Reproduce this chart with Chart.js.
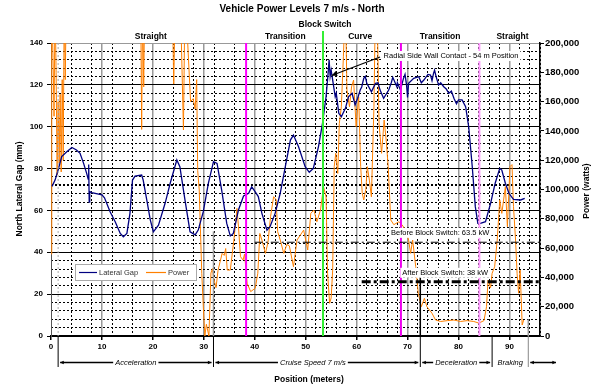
<!DOCTYPE html>
<html>
<head>
<meta charset="utf-8">
<script src="https://cdn.jsdelivr.net/npm/chart.js@4.4.0/dist/chart.umd.min.js"></script>
<style>
html, body { margin: 0; padding: 0; background: #fff; }
canvas { display: block; }
</style>
</head>
<body>
<canvas id="powerChart" width="594" height="387"></canvas>
<script>
// North lateral gap (mm) against position (m)
const gapPos = [0.2, 0.8, 1.4, 2.1, 3.1, 4.1, 5.0, 5.7, 6.4, 7.0, 7.3, 7.4, 7.5, 7.6, 8.0, 10.0, 10.5, 11.6, 12.6, 13.6,
  14.2, 14.9, 15.5, 16.0, 16.5, 17.8, 18.1, 18.8, 19.5, 20.1, 21.1, 22.4, 23.4, 24.7, 25.3, 26.3, 27.3, 28.3, 28.9, 29.9,
  30.9, 31.9, 32.6, 33.5, 34.5, 35.2, 35.8, 36.8, 37.8, 38.8, 39.4, 40.1, 40.7, 41.4, 42.4, 43.0, 44.0, 45.0, 46.0, 47.0,
  47.6, 48.6, 49.9, 50.7, 51.5, 52.5, 53.3, 54.0, 54.4, 54.6, 54.8, 55.0, 55.3, 55.8, 56.0, 56.5, 57.0, 57.8, 58.4, 59.1,
  59.7, 60.2, 60.7, 61.0, 61.4, 61.7, 62.0, 62.9, 63.7, 64.2, 64.6, 65.3, 66.3, 66.8, 67.1, 67.9, 68.0, 68.6, 69.2, 69.5,
  69.8, 70.0, 70.2, 71.2, 72.2, 72.7, 73.2, 74.0, 74.5, 74.8, 75.1, 75.3, 75.6, 76.1, 76.5, 77.1, 77.6, 78.1, 78.6, 79.1,
  79.6, 80.0, 80.7, 81.4, 82.0, 82.7, 83.3, 83.8, 84.3, 85.3, 86.3, 87.2, 88.1, 88.5, 89.2, 89.9, 90.8, 92.2, 93.0];
const gapVal = [71.5, 74.5, 79.3, 85.7, 88.0, 90.1, 88.9, 87.3, 82.5, 77.7, 75.0, 82.0, 64.0, 69.0, 68.5, 67.4, 66.0, 59.4, 54.6, 49.0,
  47.4, 49.0, 58.6, 74.5, 76.4, 76.9, 74.5, 65.0, 55.4, 49.8, 53.0, 63.4, 73.0, 84.1, 80.9, 65.0, 49.8, 48.3, 50.6, 59.4,
  73.0, 83.3, 82.5, 69.8, 53.8, 47.8, 49.0, 60.2, 66.9, 68.2, 71.3, 68.9, 66.6, 58.6, 50.6, 52.2, 58.6, 68.2, 80.9, 93.6,
  96.0, 90.4, 80.9, 78.2, 80.1, 90.4, 101.6, 114.3, 125.5, 132.0, 124.0, 127.0, 122.3, 114.3, 116.0, 106.4, 104.8, 108.8, 114.3, 116.0,
  110.4, 113.6, 117.5, 119.0, 123.1, 124.0, 120.7, 116.7, 120.7, 121.0, 117.5, 113.6, 117.5, 121.0, 123.6, 119.1, 121.0, 117.5, 123.1, 125.0,
  120.0, 114.0, 120.7, 123.1, 123.9, 121.0, 122.3, 125.0, 124.7, 122.0, 125.5, 127.0, 123.9, 119.9, 121.0, 119.1, 118.0, 116.0, 117.0, 113.6,
  111.0, 112.8, 112.8, 109.6, 100.0, 80.9, 61.8, 53.8, 53.8, 54.6, 63.4, 73.0, 80.1, 79.3, 73.0, 68.2, 65.3, 65.0, 65.8];

// power (W) against position (m); 230000 = off the top of the chart
const powerPos = [0.0, 0.15, 0.4, 0.6, 0.8, 1.0, 1.2, 1.4, 1.6, 1.8, 2.0, 2.2, 2.4, 2.6, 2.8, 3.0, 3.2, 10.0, 17.6, 17.8,
  18.0, 18.2, 18.4, 23.8, 24.1, 24.4, 25.0, 25.6, 26.0, 26.3, 26.7, 27.4, 27.9, 28.3, 28.6, 28.8, 29.1, 29.6, 29.9, 30.2,
  30.5, 31.0, 31.4, 31.7, 31.9, 32.4, 32.8, 33.6, 34.0, 34.3, 34.6, 35.2, 35.9, 36.3, 36.5, 36.8, 37.2, 37.7, 38.0, 38.5,
  39.2, 40.1, 40.6, 41.0, 41.4, 42.1, 42.6, 43.1, 43.7, 44.2, 44.5, 45.0, 45.7, 46.3, 46.8, 47.6, 48.3, 49.6, 50.4, 51.0,
  51.6, 52.2, 52.9, 53.5, 54.0, 54.3, 54.7, 55.0, 55.3, 55.6, 55.9, 56.3, 56.6, 57.0, 57.4, 57.8, 58.1, 58.6, 59.0, 59.4,
  59.9, 60.4, 60.8, 61.1, 61.4, 61.8, 62.1, 62.5, 62.9, 63.4, 63.7, 64.0, 64.4, 64.9, 65.4, 65.8, 66.2, 66.7, 67.3, 68.3,
  68.9, 69.6, 70.2, 70.6, 71.0, 71.6, 72.1, 72.7, 73.3, 73.8, 74.8, 75.5, 76.5, 77.8, 79.1, 80.4, 81.7, 83.0, 84.0, 85.0,
  85.5, 85.8, 86.3, 86.6, 87.1, 87.6, 88.1, 88.5, 89.2, 89.6, 90.1, 90.5, 90.8, 91.2, 91.5, 91.8, 92.1, 92.5, 92.8];
const powerVal = [56000, 230000, 190000, 150000, 230000, 180000, 110000, 160000, 118000, 165000, 112000, 175000, 120000, 230000, 175000, 230000, 230000, 230000, 230000, 141000,
  230000, 170000, 230000, 230000, 172000, 230000, 230000, 200000, 140600, 230000, 210000, 160000, 162000, 155000, 175000, 113000, 99700, 42800, 20000, 0,
  8000, 0, 43000, 46000, 40000, 33000, 45000, 56400, 55000, 59700, 45000, 45000, 65500, 79100, 87100, 75000, 54100, 51900, 56000, 36000,
  30300, 32600, 42800, 70000, 65500, 56400, 64000, 81400, 95100, 93000, 71200, 65500, 56400, 62500, 61500, 47300, 65500, 72300, 58700, 83700,
  86000, 78000, 86000, 101900, 95000, 42800, 22300, 26000, 45000, 115600, 124700, 111000, 145000, 156500, 190600, 230000, 167900, 156500, 170000, 174700,
  142900, 163300, 115600, 97400, 92900, 100000, 115600, 106400, 95000, 156500, 230000, 230000, 145000, 124700, 147400, 133800, 115600, 79200, 76000, 78000,
  76000, 72300, 65500, 56400, 65500, 47300, 29200, 20000, 25700, 20000, 15500, 10900, 9900, 10500, 10900, 9900, 10500, 9900, 8800, 10500,
  20000, 38200, 33000, 42800, 47300, 65500, 92900, 83700, 101900, 74600, 115600, 117000, 88300, 65500, 42800, 29200, 45000, 7500, 10900];

// track sections (top) and run phases (bottom)
const sectionNames = ['Straight', 'Transition', 'Curve', 'Transition', 'Straight'];
const sectionAt = [19.6, 46.0, 60.7, 76.4, 90.6];
const phaseNames = ['Acceleration', 'Cruise Speed 7 m/s', 'Deceleration', 'Braking'];
const phaseBounds = [1.4, 31.9, 72.5, 86.6, 93.7];

const FONT = "'Liberation Sans', Arial, sans-serif";

function boxedText(ctx, str, x, y, align) {
  const w = ctx.measureText(str).width;
  const left = align === 'left' ? x : x - w / 2;
  ctx.fillStyle = '#fff';
  ctx.fillRect(left - 2, y - 5, w + 4, 10);
  ctx.fillStyle = '#000';
  ctx.textAlign = align || 'center';
  ctx.fillText(str, x, y);
}

function arrowHead(ctx, x1, y1, x2, y2, size) {
  const ang = Math.atan2(y2 - y1, x2 - x1);
  ctx.beginPath();
  ctx.moveTo(x2, y2);
  ctx.lineTo(x2 - size * Math.cos(ang - 0.45), y2 - size * Math.sin(ang - 0.45));
  ctx.lineTo(x2 - size * Math.cos(ang + 0.45), y2 - size * Math.sin(ang + 0.45));
  ctx.closePath();
  ctx.fill();
}

const extras = {
  id: 'extras',
  afterDatasetsDraw(chart) {
    const { ctx, chartArea: a, scales } = chart;
    const x = scales.x, y = scales.y, y2 = scales.y2;
    const px = v => x.getPixelForValue(v);
    ctx.save();
    ctx.textBaseline = 'middle';

    // block switch and transition markers
    const markers = [
      { at: 38.3, color: '#ff00ff', top: a.top },
      { at: 53.4, color: '#33ee33', top: 31 },
      { at: 68.7, color: '#ee00ee', top: a.top },
      { at: 84.1, color: '#ff99ff', top: a.top }
    ];
    ctx.lineWidth = 2;
    markers.forEach(m => {
      ctx.strokeStyle = m.color;
      ctx.beginPath();
      ctx.moveTo(px(m.at), m.top);
      ctx.lineTo(px(m.at), a.bottom);
      ctx.stroke();
    });

    // phase boundaries inside plot
    ctx.lineWidth = 1.5;
    [[31.9, 50, '#999'], [72.5, 30, '#000'], [93.7, 8, '#999']].forEach(b => {
      ctx.strokeStyle = b[2];
      ctx.beginPath();
      ctx.moveTo(px(b[0]), y.getPixelForValue(b[1]));
      ctx.lineTo(px(b[0]), a.bottom);
      ctx.stroke();
    });
    ctx.strokeStyle = '#aaa';
    ctx.lineWidth = 1;
    ctx.setLineDash([2, 2]);
    ctx.beginPath();
    ctx.moveTo(px(1.4), a.top);
    ctx.lineTo(px(1.4), a.bottom);
    ctx.stroke();

    // power levels before / after the block switch
    ctx.strokeStyle = '#000';
    ctx.lineWidth = 1;
    ctx.setLineDash([8, 3, 2, 3]);
    ctx.beginPath();
    ctx.moveTo(px(40), y2.getPixelForValue(64000));
    ctx.lineTo(a.right, y2.getPixelForValue(64000));
    ctx.stroke();
    ctx.lineWidth = 3;
    ctx.setLineDash([9, 3, 3, 3]);
    ctx.beginPath();
    ctx.moveTo(px(61), y2.getPixelForValue(37000));
    ctx.lineTo(a.right, y2.getPixelForValue(37000));
    ctx.stroke();
    ctx.setLineDash([]);

    ctx.font = '7.5px ' + FONT;
    boxedText(ctx, 'Before Block Switch: 63.5 kW', px(76.4), y.getPixelForValue(49.3));
    boxedText(ctx, 'After Block Switch: 38 kW', px(77.4), y.getPixelForValue(30.2));

    // radial side wall contact callout
    const tx = px(64.6), ty = y.getPixelForValue(133.3);
    const hx = px(55.1), hy = y.getPixelForValue(124.5);
    ctx.strokeStyle = '#000';
    ctx.fillStyle = '#000';
    ctx.lineWidth = 1.2;
    ctx.beginPath();
    ctx.moveTo(tx, ty);
    ctx.lineTo(hx, hy);
    ctx.stroke();
    arrowHead(ctx, tx, ty, hx, hy, 6);
    boxedText(ctx, 'Radial Side Wall Contact - 54 m Position', px(65.3), y.getPixelForValue(133.8), 'left');

    // legend
    ctx.fillStyle = '#fff';
    ctx.fillRect(75, 264, 122, 17);
    ctx.strokeStyle = '#aaa';
    ctx.lineWidth = 1;
    ctx.strokeRect(75.5, 264.5, 121, 16);
    ctx.lineWidth = 1.2;
    ctx.strokeStyle = '#000080';
    ctx.beginPath(); ctx.moveTo(79, 272.5); ctx.lineTo(97, 272.5); ctx.stroke();
    ctx.strokeStyle = '#ff8000';
    ctx.beginPath(); ctx.moveTo(146, 272.5); ctx.lineTo(166, 272.5); ctx.stroke();
    ctx.fillStyle = '#333';
    ctx.textAlign = 'left';
    ctx.fillText('Lateral Gap', 99, 273);
    ctx.fillText('Power', 168, 273);

    // title, section names
    ctx.fillStyle = '#000';
    ctx.textAlign = 'center';
    ctx.font = 'bold 10px ' + FONT;
    ctx.fillText('Vehicle Power Levels 7 m/s - North', 302, 9);
    ctx.font = 'bold 8.5px ' + FONT;
    ctx.fillText('Block Switch', px(53.8), 25);
    sectionNames.forEach((s, i) => ctx.fillText(s, px(sectionAt[i]), 37));

    // axis titles
    ctx.fillText('Position (meters)', 309, 380);
    ctx.save();
    ctx.translate(20, 189);
    ctx.rotate(-Math.PI / 2);
    ctx.fillText('North Lateral Gap (mm)', 0, 0);
    ctx.restore();
    ctx.save();
    ctx.translate(587, 191);
    ctx.rotate(-Math.PI / 2);
    ctx.fillText('Power (watts)', 0, 0);
    ctx.restore();

    // phases below the axis
    ctx.lineWidth = 1;
    phaseBounds.forEach((b, i) => {
      ctx.strokeStyle = i === phaseBounds.length - 1 ? '#888' : '#000';
      ctx.beginPath();
      ctx.moveTo(px(b), a.bottom);
      ctx.lineTo(px(b), a.bottom + 31);
      ctx.stroke();
    });
    const ly = 362.5;
    ctx.strokeStyle = '#000';
    ctx.fillStyle = '#000';
    ctx.lineWidth = 1.5;
    // braking label fills its own span, so no arrow line there
    const segs = phaseBounds.slice(0, -2).map((b, i) => [px(b) + 2, px(phaseBounds[i + 1]) - 2]);
    segs.push([px(phaseBounds[phaseBounds.length - 1]) + 2, 556]);
    segs.forEach(s => {
      ctx.beginPath(); ctx.moveTo(s[0], ly); ctx.lineTo(s[1], ly); ctx.stroke();
      arrowHead(ctx, s[1], ly, s[0], ly, 4);
      arrowHead(ctx, s[0], ly, s[1], ly, 4);
    });
    ctx.font = 'italic 7.5px ' + FONT;
    phaseNames.forEach((n, i) => {
      boxedText(ctx, n, (px(phaseBounds[i]) + px(phaseBounds[i + 1])) / 2 - (i === 1 ? 4 : 0), ly);
    });
    ctx.restore();
  }
};

const tickFont = { family: FONT, size: 8, weight: 'bold' };

new Chart(document.getElementById('powerChart').getContext('2d'), {
  type: 'line',
  data: {
    datasets: [{
      label: 'Lateral Gap',
      data: gapPos.map((p, i) => ({ x: p, y: gapVal[i] })),
      yAxisID: 'y',
      borderColor: '#000080',
      borderWidth: 1.3,
      pointRadius: 0,
      tension: 0
    }, {
      label: 'Power',
      data: powerPos.map((p, i) => ({ x: p, y: powerVal[i] })),
      yAxisID: 'y2',
      borderColor: '#ff8000',
      borderWidth: 1,
      pointRadius: 0,
      tension: 0
    }]
  },
  options: {
    responsive: false,
    animation: false,
    devicePixelRatio: 1,
    layout: { padding: { top: 43, left: 0, right: 0, bottom: 0 } },
    plugins: { legend: { display: false }, tooltip: { enabled: false } },
    scales: {
      x: {
        type: 'linear', position: 'bottom', min: 0, max: 96,
        ticks: { stepSize: 10, includeBounds: false, font: tickFont, color: '#000', padding: 2 },
        grid: { color: c => c.tick.value === 0 ? 'rgba(0,0,0,0)' : '#999', lineWidth: 1.5, tickColor: '#000', tickLength: 4 },
        border: { color: '#000', width: 2 },
        afterFit: s => { s.height = 51; }
      },
      xm: {
        type: 'linear', position: 'top', min: 0, max: 96,
        ticks: { display: false, stepSize: 2 },
        grid: {
          drawTicks: false,
          color: c => {
            const v = c.tick.value;
            if (v % 10 === 0 || (v < 40 && v % 4 !== 0)) return 'rgba(0,0,0,0)';
            return '#000';
          },
          lineWidth: 1
        },
        border: { display: false, dash: [2, 2] },
        afterFit: s => { s.height = 0; }
      },
      y: {
        position: 'left', min: 0, max: 140,
        ticks: { stepSize: 20, font: tickFont, color: '#000', padding: 4 },
        grid: { color: c => c.tick.value === 140 ? '#999' : '#000', lineWidth: 1, tickColor: '#000', tickLength: 4 },
        border: { color: '#555', width: 1 },
        afterFit: s => { s.width = 51; }
      },
      ym: {
        position: 'left', min: 0, max: 140,
        ticks: { display: false, stepSize: 4 },
        grid: {
          drawTicks: false,
          color: c => c.tick.value % 20 === 0 ? 'rgba(0,0,0,0)' : '#000',
          lineWidth: c => c.tick.value === 72 ? 2 : 1
        },
        border: { display: false, dash: [2, 2] },
        afterFit: s => { s.width = 0; }
      },
      y2: {
        position: 'right', min: 0, max: 200000,
        ticks: { stepSize: 20000, font: { family: FONT, size: 9.5, weight: 'bold' }, color: '#000', padding: 1, callback: v => v.toLocaleString('en-US') },
        grid: { drawOnChartArea: false, tickColor: '#000', tickLength: 4 },
        border: { color: '#000', width: 1.5 },
        afterFit: s => { s.width = 54; }
      }
    }
  },
  plugins: [extras]
});
</script>
</body>
</html>
